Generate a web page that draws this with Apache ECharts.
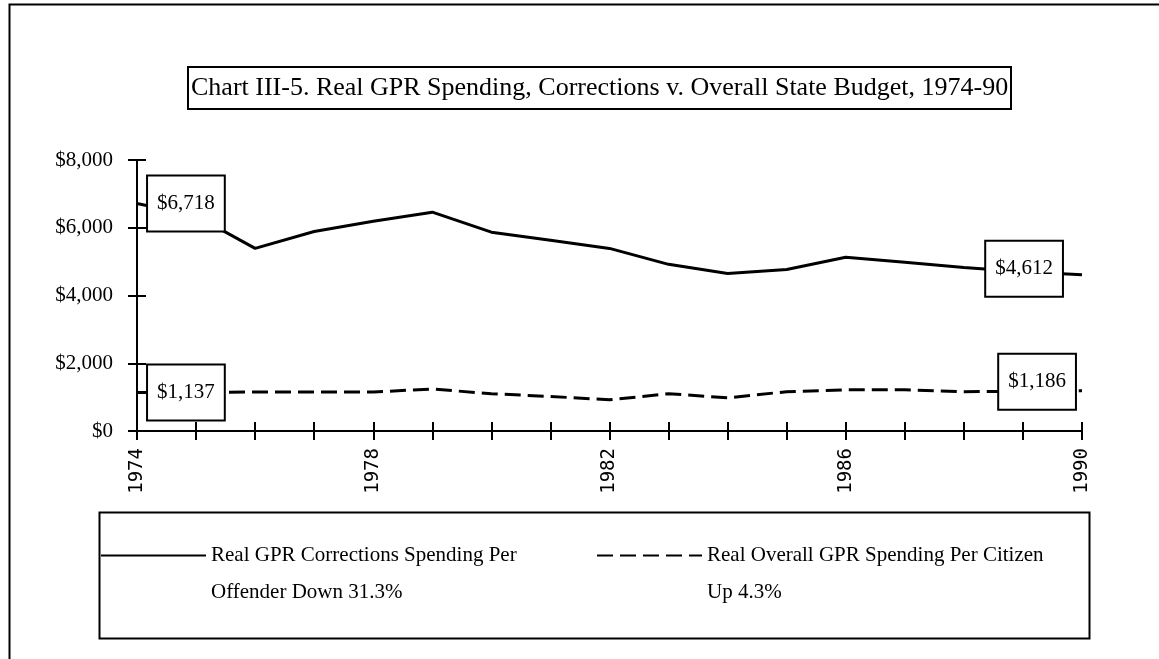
<!DOCTYPE html>
<html>
<head>
<meta charset="utf-8">
<script src="https://cdn.jsdelivr.net/npm/echarts@6/dist/echarts.min.js"></script>
<style>
html,body{margin:0;padding:0;background:#fff;}
#chart{width:1159px;height:659px;}
</style>
</head>
<body>
<div id="chart"></div>
<script>
// ---- data ----
var years = [1974,1975,1976,1977,1978,1979,1980,1981,1982,1983,1984,1985,1986,1987,1988,1989,1990];
var correctionsPerOffender = [6718,6350,5390,5890,6190,6460,5870,5630,5390,4920,4650,4770,5130,4980,4830,4700,4612];
var overallPerCitizen = [1137,1140,1150,1150,1150,1240,1100,1020,920,1100,980,1160,1215,1215,1160,1170,1186];
var yTicks = [0,2000,4000,6000,8000];
var xLabelYears = [1974,1978,1982,1986,1990];
var titleText = 'Chart III-5. Real GPR Spending, Corrections v. Overall State Budget, 1974-90';
var seriesNames = ['Real GPR Corrections Spending Per\nOffender Down 31.3%', 'Real Overall GPR Spending Per Citizen\nUp 4.3%'];

var SERIF = '"Liberation Serif", "Times New Roman", serif';
function money(v){ return '$' + Math.round(v).toString().replace(/\B(?=(\d{3})+(?!\d))/g, ','); }

var boxLabel = {
  show: true, color: '#000', fontFamily: SERIF, fontSize: 21, lineHeight: 21,
  backgroundColor: '#fff', borderColor: '#000', borderWidth: 2, padding: [17, 9, 16, 9],
  formatter: function(p){ return money(p.value[1]); }
};
function buildData(vals, firstLab, lastLab){
  return years.map(function(y, i){
    var d = { value: [y, vals[i]] };
    if (i === 0) { d.symbol = 'circle'; d.symbolSize = 0.1; d.label = Object.assign({}, boxLabel, firstLab); }
    if (i === years.length - 1) { d.symbol = 'circle'; d.symbolSize = 0.1; d.label = Object.assign({}, boxLabel, lastLab); }
    return d;
  });
}

var chart = echarts.init(document.getElementById('chart'), null, {renderer: 'canvas'});
var axisBase = { min: 1974, max: 1990, interval: 1 };
var legendBase = {
  top: 500, padding: 0, itemWidth: 105, itemHeight: 14, itemGap: 0,
  itemStyle: { opacity: 0 },
  // blank first line keeps the sample line level with the first text line
  formatter: function(name){ return '\n' + name; },
  textStyle: { fontFamily: SERIF, fontSize: 21, lineHeight: 37, color: '#000' }
};
var option = {
  animation: false,
  backgroundColor: '#fff',
  title: {
    text: titleText, left: 188, top: 67,
    borderColor: '#000', borderWidth: 2, padding: [8, 3, 8, 3],
    textStyle: { fontFamily: SERIF, fontSize: 26, fontWeight: 'normal', color: '#000' }
  },
  graphic: [
    { type: 'rect', left: 7, top: 2, shape: { width: 1400, height: 900 }, style: { fill: 'none', stroke: '#000', lineWidth: 2 }, silent: true },
    { type: 'rect', left: 97, top: 510, shape: { width: 990, height: 126 }, style: { fill: 'none', stroke: '#000', lineWidth: 2 }, silent: true }
  ],
  legend: [
    Object.assign({ data: [seriesNames[0]], left: 100 }, legendBase),
    Object.assign({ data: [seriesNames[1]], left: 596 }, legendBase)
  ],
  grid: { left: 137, right: 77, top: 160, bottom: 228, containLabel: false },
  xAxis: [
    Object.assign({ type: 'value', position: 'bottom',
      axisLine: { onZero: false, lineStyle: { color: '#000', width: 2 } },
      axisTick: { show: true, inside: false, length: 9, lineStyle: { color: '#000', width: 2 } },
      splitLine: { show: false },
      axisLabel: { rotate: 90, margin: 17, color: '#000', fontFamily: '"DejaVu Sans Mono", monospace', fontSize: 19,
        formatter: function(v){ return xLabelYears.indexOf(v) >= 0 ? String(v) : ''; } }
    }, axisBase),
    Object.assign({ type: 'value', position: 'bottom',
      axisLine: { show: false }, axisLabel: { show: false }, splitLine: { show: false },
      axisTick: { show: true, inside: true, length: 9, lineStyle: { color: '#000', width: 2 } }
    }, axisBase)
  ],
  yAxis: [
    { type: 'value', min: 0, max: 8000, interval: 2000, position: 'left',
      axisLine: { show: true, onZero: false, lineStyle: { color: '#000', width: 2 } },
      axisTick: { show: true, inside: false, length: 9, lineStyle: { color: '#000', width: 2 } },
      splitLine: { show: false },
      axisLabel: { margin: 24, color: '#000', fontFamily: SERIF, fontSize: 21,
        formatter: function(v){ return yTicks.indexOf(v) >= 0 ? money(v) : ''; } } },
    { type: 'value', min: 0, max: 8000, interval: 2000, position: 'left',
      axisLine: { show: false }, axisLabel: { show: false }, splitLine: { show: false },
      axisTick: { show: true, inside: true, length: 9, lineStyle: { color: '#000', width: 2 } } }
  ],
  series: [
    { name: seriesNames[0], type: 'line', xAxisIndex: 0, yAxisIndex: 0, symbol: 'none', showSymbol: true,
      color: '#000', lineStyle: { color: '#000', width: 3, type: 'solid' },
      data: buildData(correctionsPerOffender, { position: 'right', distance: 11 }, { position: 'left', distance: 20, offset: [0, -6] }) },
    { name: seriesNames[1], type: 'line', xAxisIndex: 0, yAxisIndex: 0, symbol: 'none', showSymbol: true,
      color: '#000', lineStyle: { color: '#000', width: 3, type: [16, 7] },
      data: buildData(overallPerCitizen, { position: 'right', distance: 11 }, { position: 'left', distance: 7, offset: [0, -9] }) }
  ]
};
chart.setOption(option);
</script>
</body>
</html>
